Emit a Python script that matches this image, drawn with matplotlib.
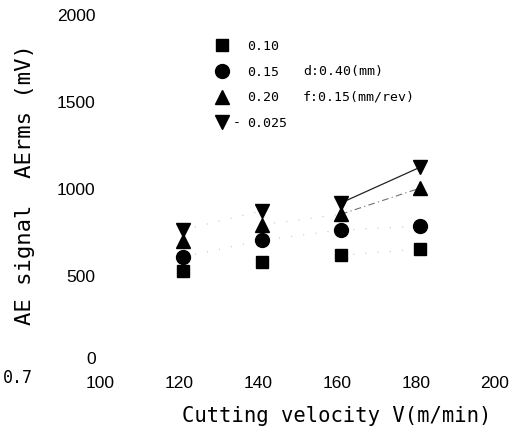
import matplotlib
matplotlib.use("Agg")
import matplotlib.pyplot as plt
import matplotlib.transforms as mtransforms
from matplotlib.lines import Line2D

# ---- data ----
velocity = [120, 140, 160, 180]
f_010 = [530, 580, 620, 655]
f_015 = [610, 705, 765, 785]
f_020 = [700, 795, 855, 1005]
f_0025 = [765, 875, 920, 1125]
series_labels = ["0.10", "0.15", "0.20", "0.025"]
x_ticks = [100, 120, 140, 160, 180, 200]
y_ticks = [0, 500, 1000, 1500, 2000]

W, H = 520, 433
fig = plt.figure(figsize=(W / 100, H / 100), dpi=100)
fig.patch.set_facecolor("white")

# axes placement in pixels
x0, x1 = 104, 499
y0, y1 = 363, 15
ax = fig.add_axes([x0 / W, 1 - y0 / H, (x1 - x0) / W, (y0 - y1) / H])
ax.set_xlim(100, 200)
ax.set_ylim(0, 2000)
for s in ax.spines.values():
    s.set_visible(False)
ax.set_facecolor("none")

ax.set_xticks(x_ticks)
ax.set_yticks(y_ticks)
ax.set_xticklabels([str(v) for v in x_ticks])
ax.set_yticklabels([str(v) for v in y_ticks])
ax.tick_params(length=0, labelsize=12.5, colors="black")
ax.tick_params(axis="x", pad=9)
ax.tick_params(axis="y", pad=6)
for lab in ax.get_xticklabels() + ax.get_yticklabels():
    lab.set_fontfamily("Liberation Sans")
off = mtransforms.ScaledTranslation(-4 / 100, 0, fig.dpi_scale_trans)
for lab in ax.get_xticklabels():
    lab.set_transform(lab.get_transform() + off)
offy = mtransforms.ScaledTranslation(0, 5 / 100, fig.dpi_scale_trans)
ax.get_yticklabels()[0].set_transform(ax.get_yticklabels()[0].get_transform() + offy)

# faint dotted connecting segments
faint = dict(color="#c4c4c4", lw=0.8, linestyle=(0, (1, 10)), zorder=1)
ax.plot(velocity[:3], f_015[:3], **faint)
ax.plot(velocity[2:], f_015[2:], **faint)
ax.plot(velocity[:2], f_0025[:2], **faint)
ax.plot(velocity[1:3], f_020[1:3], **faint)
ax.plot(velocity[2:], f_010[2:], **faint)

# darker connecting segments 160 -> 180
ax.plot(velocity[2:], f_0025[2:], color="#222222", lw=0.9, zorder=1)
ax.plot(velocity[2:], f_020[2:], color="#707070", lw=0.8,
        linestyle=(0, (6, 3, 1, 3)), zorder=1)

mk = dict(color="black", linestyle="none", zorder=3)
ax.plot(velocity, f_010, marker="s", ms=9.2, **mk)
ax.plot(velocity, f_015, marker="o", ms=10, **mk)
ax.plot(velocity, f_020, marker="^", ms=10, **mk)
ax.plot(velocity, f_0025, marker="v", ms=10, **mk)

# legend
handles = [
    Line2D([], [], marker="s", ms=9.2, color="black", linestyle="none"),
    Line2D([], [], marker="o", ms=10, color="black", linestyle="none"),
    Line2D([], [], marker="^", ms=10, color="black", linestyle="none"),
    Line2D([], [], marker="v", ms=10, color="black", linestyle="none"),
]
fs_leg = 9.5
mono = "DejaVu Sans Mono"
leg = ax.legend(handles, series_labels, loc="upper left",
                bbox_to_anchor=(215.6 / W, 1 - 40 / H),
                bbox_transform=fig.transFigure, frameon=False,
                borderpad=0, borderaxespad=0, handlelength=1.0,
                handletextpad=1.4, labelspacing=0.96,
                prop={"family": mono, "size": fs_leg})

fig.text(237 / W, 1 - 123 / H, "-", fontsize=fs_leg, family=mono,
         ha="center", va="center")
fig.text(303 / W, 1 - 72 / H, "d:0.40(mm)", fontsize=fs_leg, family=mono,
         ha="left", va="center")
fig.text(303 / W, 1 - 97 / H, "f:0.15(mm/rev)", fontsize=fs_leg, family=mono,
         ha="left", va="center")

fig.text(18 / W, 1 - 378 / H, "0.7", fontsize=12, family=mono,
         ha="center", va="center")

fig.text(337 / W, 1 - 416 / H, "Cutting velocity V(m/min)", fontsize=14.8,
         family=mono, ha="center", va="center")
fig.text(25 / W, 1 - 185 / H, "AE signal  AErms (mV)", fontsize=16,
         family=mono, ha="center", va="center", rotation=90)

fig.savefig("out.png", dpi=100, facecolor="white")
